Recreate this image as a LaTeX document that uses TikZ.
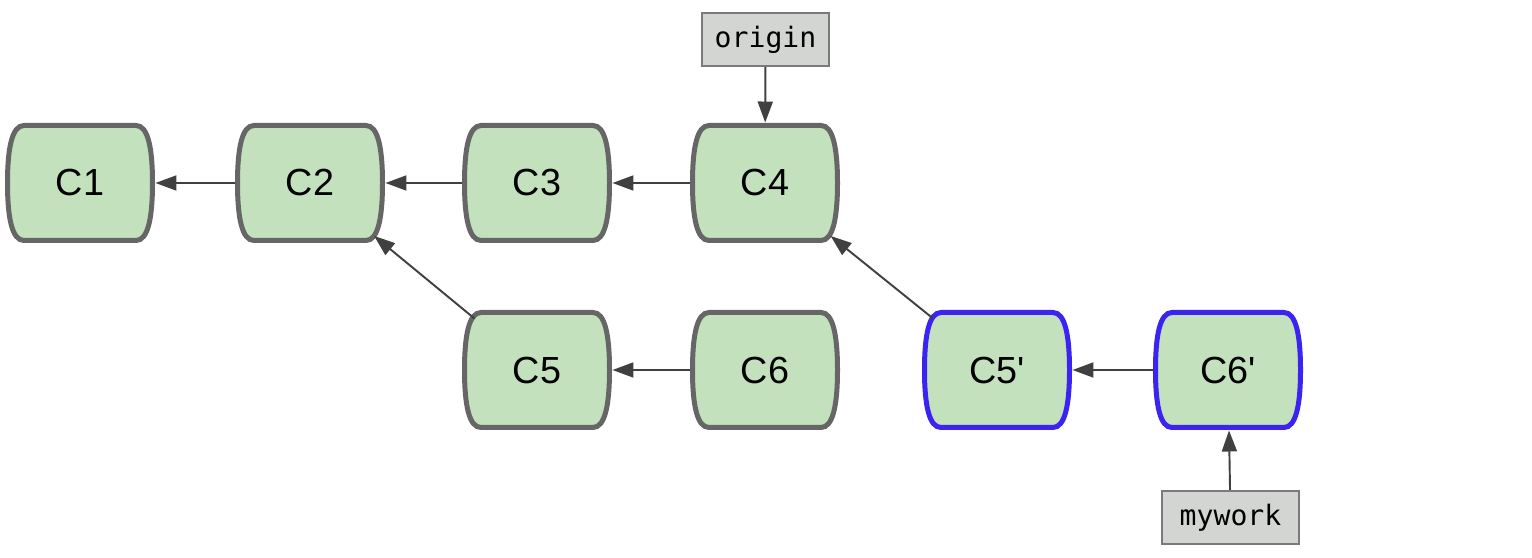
\documentclass[tikz,border=0pt]{standalone}
\usepackage{fontspec}
\setmainfont{Liberation Sans}
\newfontfamily\refmono{DejaVu Sans Mono}
\usetikzlibrary{arrows.meta,backgrounds}
\definecolor{cfill}{HTML}{C3E1BD}
\definecolor{cgray}{HTML}{666666}
\definecolor{cblue}{HTML}{3B24F2}
\definecolor{lfill}{HTML}{D2D5D2}
\definecolor{lborder}{HTML}{7A7A7A}
\definecolor{carrow}{HTML}{404040}
\begin{document}
\begin{tikzpicture}[x=0.02cm,y=0.02cm,
  commit/.style={minimum width=2.9cm,minimum height=2.3cm,inner sep=0pt,outer sep=0.06cm,font=\fontsize{21.5}{25}\selectfont},
  refbox/.style={draw=lborder,fill=lfill,line width=1.2pt,minimum height=1.06cm,inner sep=0pt,font=\refmono\fontsize{16}{19}\selectfont},
  link/.style={draw=carrow,line width=1.1pt,-{Triangle[length=0.42cm,width=0.3cm]}},
  outline/.style={line width=0.1cm,fill=cfill},
]
\useasboundingbox (0,0) rectangle (1532,558);
\node[commit] (C1) at (80,375) {C1};
\node[commit] (C2) at (310,375) {C2};
\node[commit] (C3) at (537,375) {C3};
\node[commit] (C4) at (765,375) {C4};
\node[commit] (C5) at (537,188) {C5};
\node[commit] (C6) at (765,188) {C6};
\node[commit] (C5p) at (997,188) {C5\textquotesingle};
\node[commit] (C6p) at (1228,188) {C6\textquotesingle};
\node[refbox,minimum width=2.54cm] (origin) at (765.5,518.5) {origin};
\node[refbox,minimum width=2.74cm] (mywork) at (1230.5,40.5) {mywork};
\begin{pgfonlayer}{background}
\foreach \n/\c in {C1/cgray,C2/cgray,C3/cgray,C4/cgray,C5/cgray,C6/cgray,C5p/cblue,C6p/cblue}{
  \begin{scope}[shift={(\n.center)}]
    \draw[outline,draw=\c] (-56,57.5) -- (56,57.5) .. controls (68,57.5) and (72.5,35) .. (72.5,0) .. controls (72.5,-35) and (68,-57.5) .. (56,-57.5) -- (-56,-57.5) .. controls (-68,-57.5) and (-72.5,-35) .. (-72.5,0) .. controls (-72.5,35) and (-68,57.5) .. (-56,57.5) -- cycle;
  \end{scope}
}
\end{pgfonlayer}
\draw[link] (C2) -- (C1);
\draw[link] (C3) -- (C2);
\draw[link] (C4) -- (C3);
\draw[link] (C6) -- (C5);
\draw[link] (C6p) -- (C5p);
\draw[link,shorten <=-0.29cm,shorten >=-0.24cm] (C5) -- (C2);
\draw[link,shorten <=-0.29cm,shorten >=-0.24cm] (C5p) -- (C4);
\draw[link] (origin) -- (C4);
\draw[link] (mywork) -- (C6p);
\end{tikzpicture}
\end{document}
